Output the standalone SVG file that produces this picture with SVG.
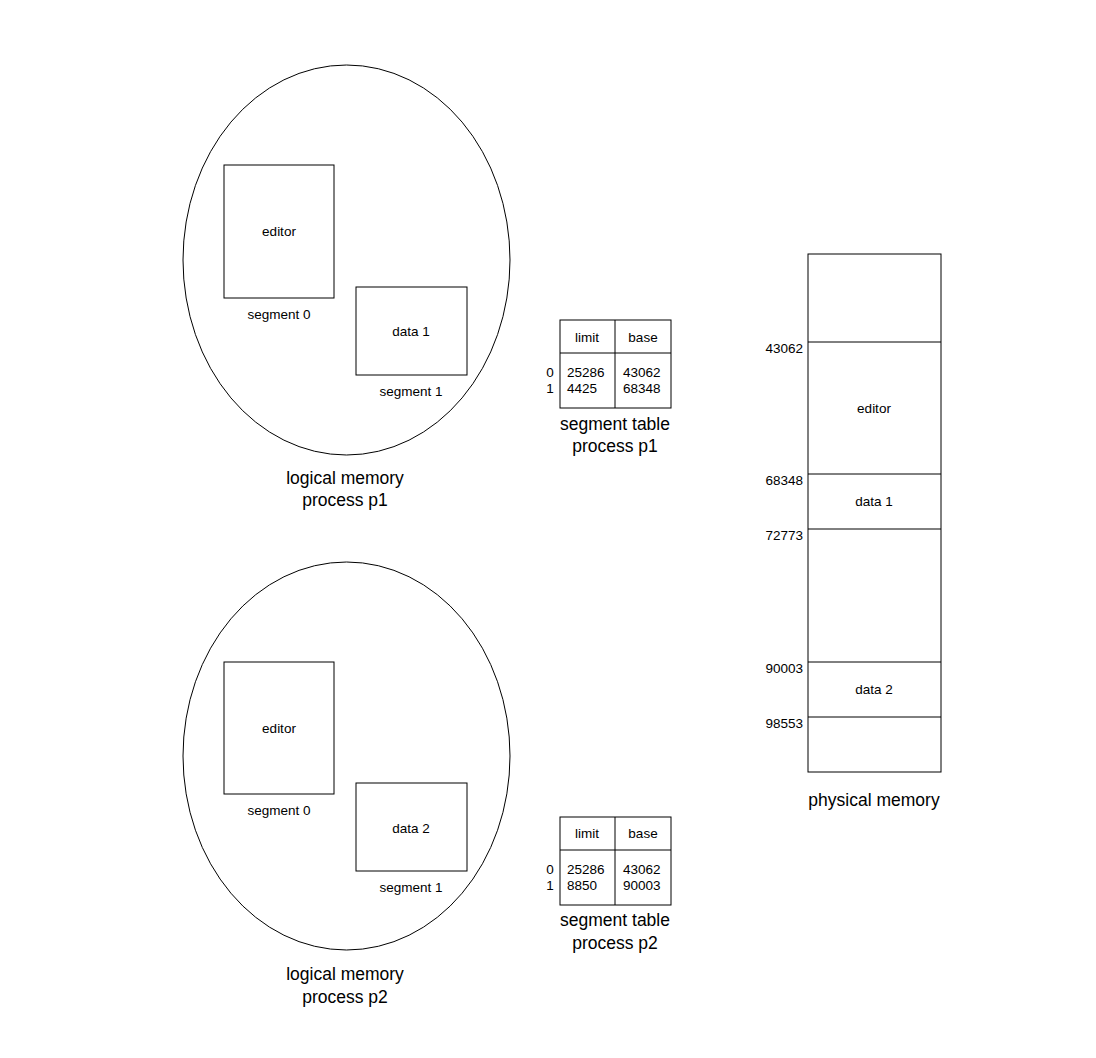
<svg xmlns="http://www.w3.org/2000/svg" width="1096" height="1058" viewBox="0 0 1096 1058">
<style>
.s{fill:#fff;stroke:#000;stroke-width:1}
.t{font-family:"Liberation Sans",Arial,sans-serif;font-size:13.5px;fill:#000}
.l{font-family:"Liberation Sans",Arial,sans-serif;font-size:17.5px;fill:#000}
.m{text-anchor:middle}
.e{text-anchor:end}
</style>
<rect width="1096" height="1058" fill="#fff"/>
<g id="logical-p1">
<ellipse class="s" cx="346.5" cy="260" rx="163.5" ry="195"/>
<rect class="s" x="224" y="165" width="110" height="133"/>
<text class="t m" x="279" y="236">editor</text>
<text class="t m" x="279" y="319">segment 0</text>
<rect class="s" x="356" y="287" width="111" height="88"/>
<text class="t m" x="411" y="336">data 1</text>
<text class="t m" x="411" y="396">segment 1</text>
<text class="l m" x="345" y="484">logical memory</text>
<text class="l m" x="345" y="506">process p1</text>
</g>
<g id="logical-p2">
<ellipse class="s" cx="346.5" cy="756" rx="163.5" ry="194"/>
<rect class="s" x="224" y="662" width="110" height="132"/>
<text class="t m" x="279" y="733">editor</text>
<text class="t m" x="279" y="815">segment 0</text>
<rect class="s" x="356" y="783" width="111" height="88"/>
<text class="t m" x="411" y="833">data 2</text>
<text class="t m" x="411" y="892">segment 1</text>
<text class="l m" x="345" y="980">logical memory</text>
<text class="l m" x="345" y="1003">process p2</text>
</g>
<g id="table-p1">
<rect class="s" x="560" y="320" width="111" height="88"/>
<line class="s" x1="560" y1="353" x2="671" y2="353"/>
<line class="s" x1="615" y1="320" x2="615" y2="408"/>
<text class="t m" x="587" y="342">limit</text>
<text class="t m" x="643" y="342">base</text>
<text class="t" x="567" y="377">25286</text>
<text class="t" x="567" y="393">4425</text>
<text class="t" x="623" y="377">43062</text>
<text class="t" x="623" y="393">68348</text>
<text class="t m" x="550" y="377">0</text>
<text class="t m" x="550" y="393">1</text>
<text class="l m" x="615" y="430">segment table</text>
<text class="l m" x="615" y="452">process p1</text>
</g>
<g id="table-p2">
<rect class="s" x="560" y="817" width="111" height="88"/>
<line class="s" x1="560" y1="850" x2="671" y2="850"/>
<line class="s" x1="615" y1="817" x2="615" y2="905"/>
<text class="t m" x="587" y="838">limit</text>
<text class="t m" x="643" y="838">base</text>
<text class="t" x="567" y="874">25286</text>
<text class="t" x="567" y="890">8850</text>
<text class="t" x="623" y="874">43062</text>
<text class="t" x="623" y="890">90003</text>
<text class="t m" x="550" y="874">0</text>
<text class="t m" x="550" y="890">1</text>
<text class="l m" x="615" y="926">segment table</text>
<text class="l m" x="615" y="949">process p2</text>
</g>
<g id="physical-memory">
<rect class="s" x="808" y="254" width="133" height="518"/>
<line class="s" x1="808" y1="342" x2="941" y2="342"/>
<line class="s" x1="808" y1="474" x2="941" y2="474"/>
<line class="s" x1="808" y1="529" x2="941" y2="529"/>
<line class="s" x1="808" y1="662" x2="941" y2="662"/>
<line class="s" x1="808" y1="717" x2="941" y2="717"/>
<text class="t e" x="803" y="353">43062</text>
<text class="t e" x="803" y="485">68348</text>
<text class="t e" x="803" y="540">72773</text>
<text class="t e" x="803" y="673">90003</text>
<text class="t e" x="803" y="728">98553</text>
<text class="t m" x="874" y="413">editor</text>
<text class="t m" x="874" y="506">data 1</text>
<text class="t m" x="874" y="694">data 2</text>
<text class="l m" x="874" y="806">physical memory</text>
</g>
<g id="connectors"/>
</svg>
